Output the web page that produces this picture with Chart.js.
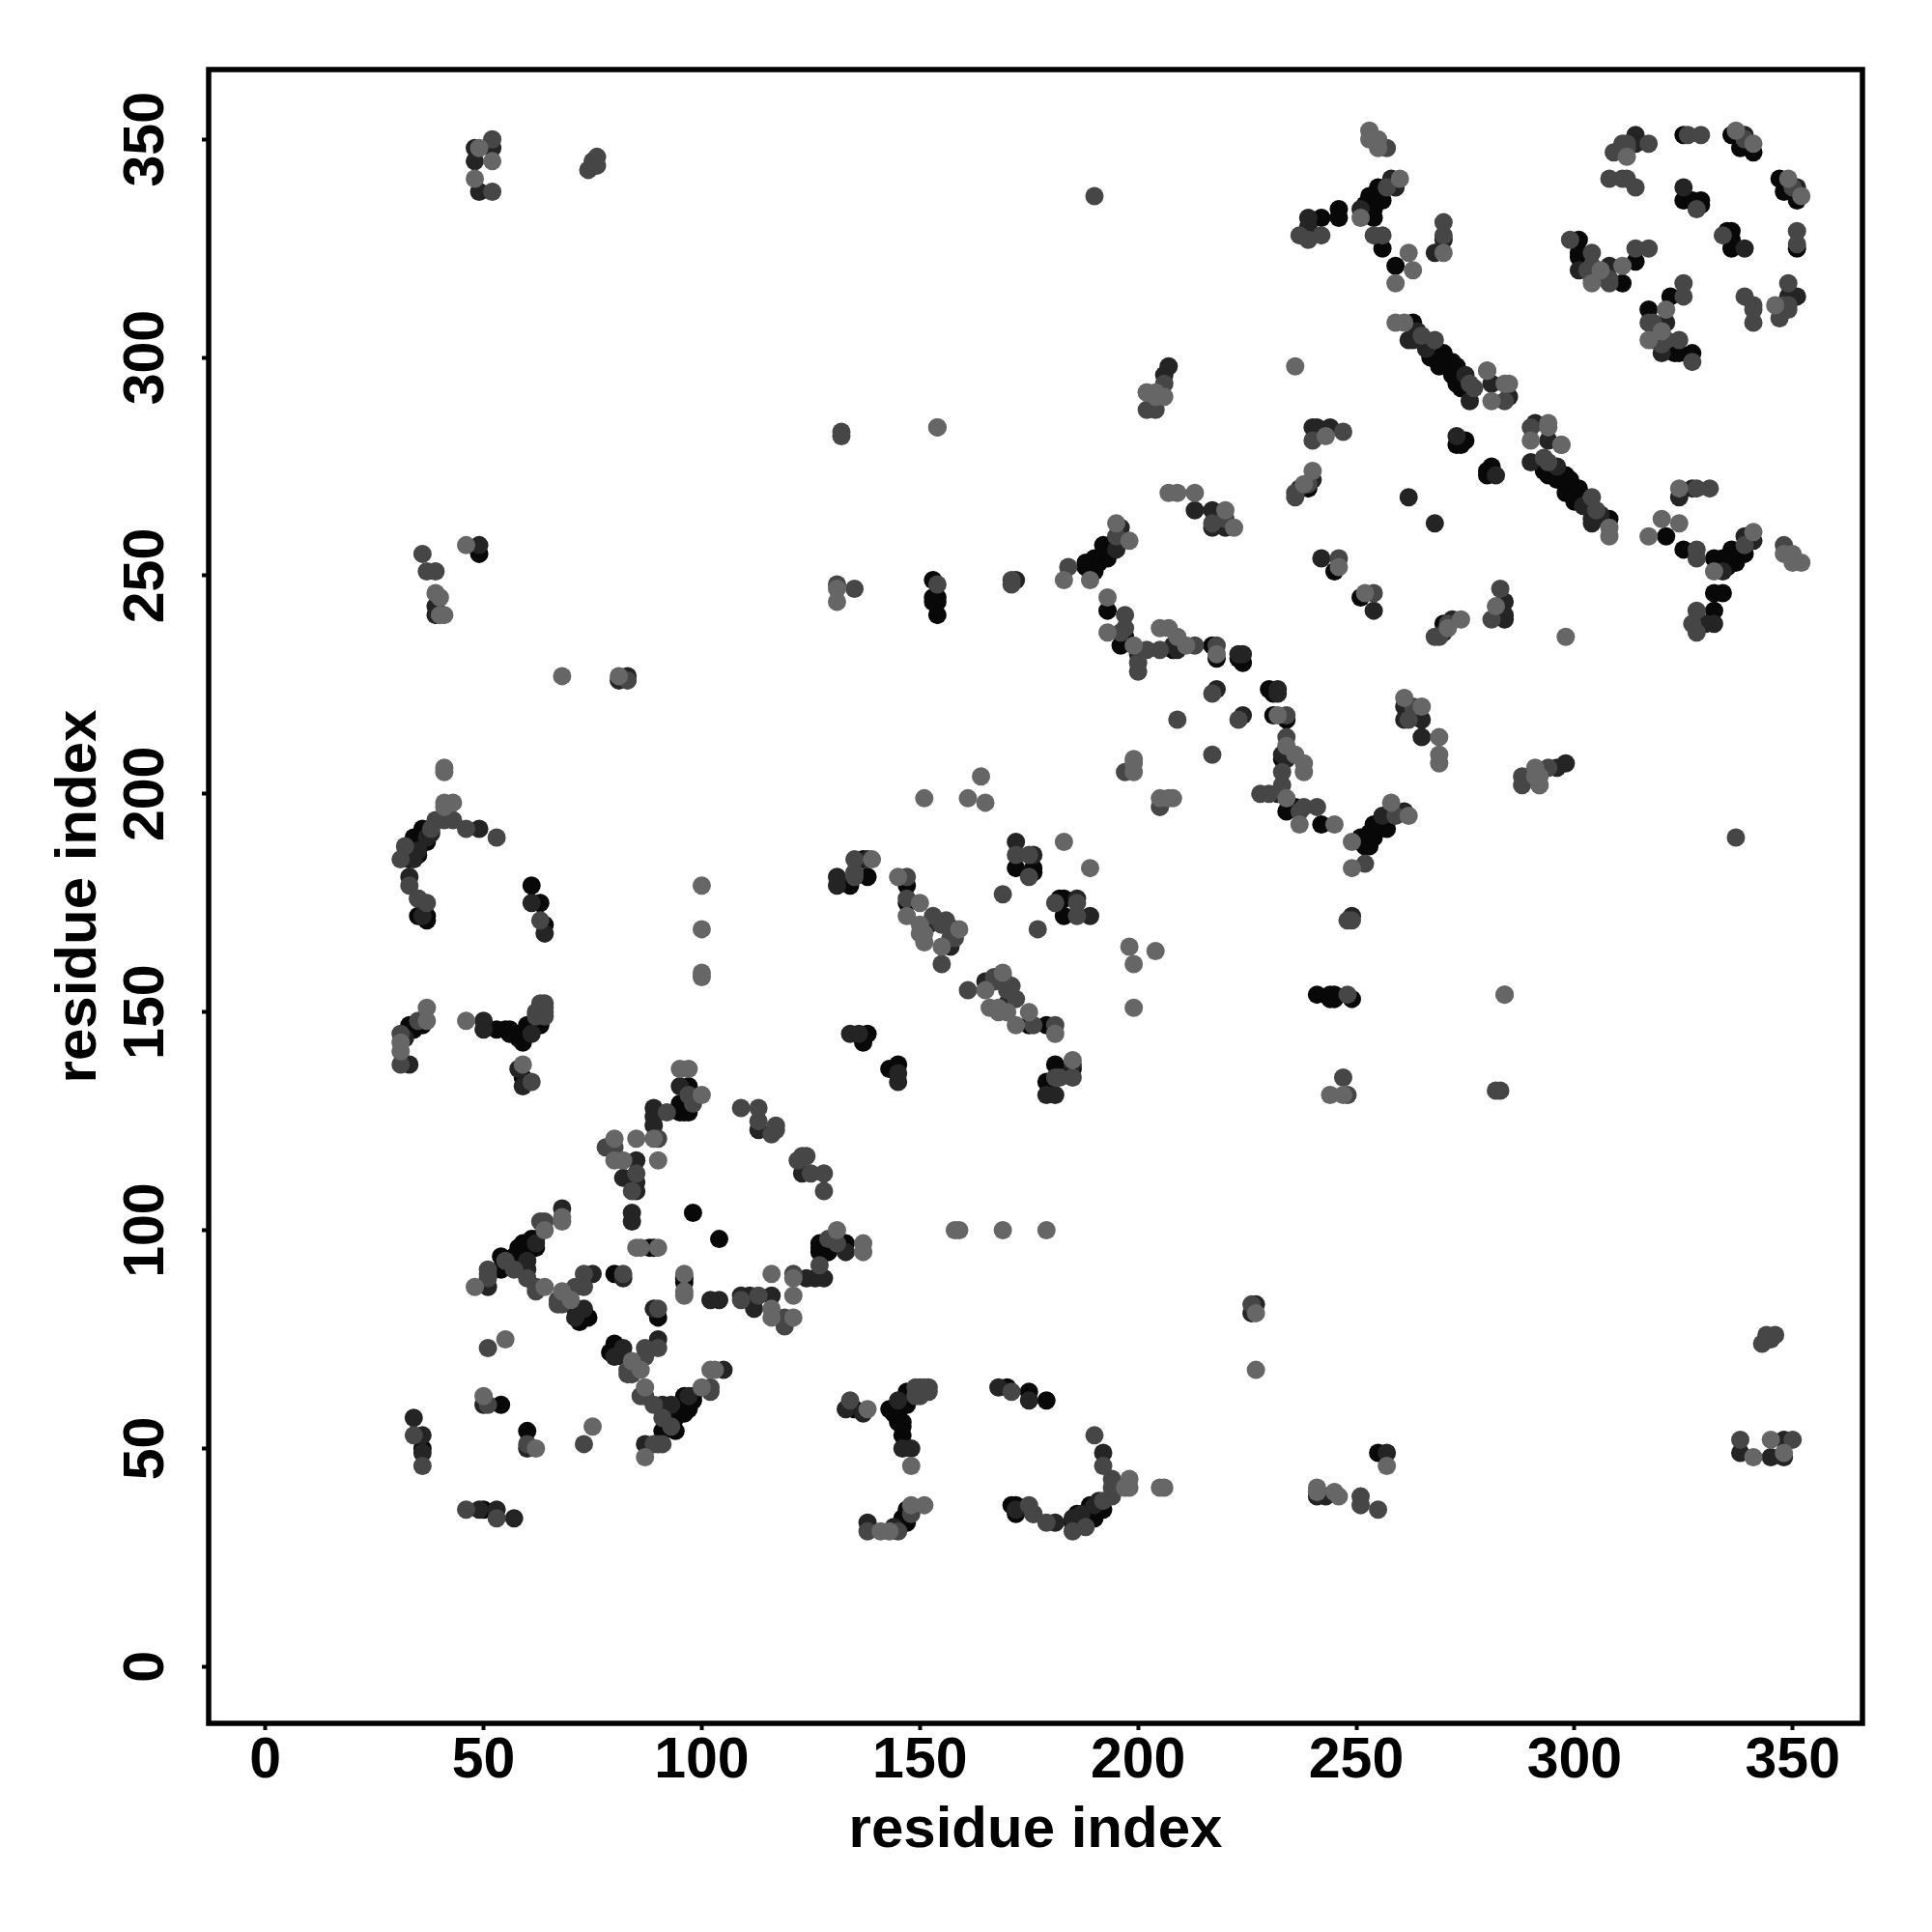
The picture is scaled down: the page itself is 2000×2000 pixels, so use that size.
<!DOCTYPE html>
<html>
<head>
<meta charset="utf-8">
<title>residue contact map</title>
<script src="https://cdn.jsdelivr.net/npm/chart.js@4"></script>
<style>
  html, body { margin: 0; padding: 0; background: #fff; }
  canvas { display: block; }
</style>
</head>
<body>
<canvas id="myChart" width="2000" height="2000" style="width:2000px;height:2000px"></canvas>
<script>
// contacts as [residue i, residue j], i < j, grouped by how dark the dot is. the map is symmetric so each one is drawn both ways
const tickValues = [0, 50, 100, 150, 200, 250, 300, 350];

const contactsLight = [
  [52,345],[48,341],[49,348],[31,141],[31,143],[37,148],[37,151],[46,148],[46,257],[39,246],[40,245],[40,241],[41,241],
  [41,205],[41,206],[41,198],[43,198],[41,197],[48,87],[50,62],[55,75],[64,87],[68,102],[68,103],[68,227],[81,227],[64,100],
  [68,86],[70,84],[59,138],[85,96],[86,96],[90,96],[85,121],[89,121],[80,121],[80,116],[82,116],[90,116],[95,137],
  [97,137],[100,131],[100,158],[100,159],[100,169],[100,179],[131,244],[131,247],[139,185],[145,181],[150,175],[147,172],
  [150,170],[150,168],[151,166],[155,165],[151,168],[159,169],[151,199],[161,199],[164,204],[165,198],[154,284],[183,189],
  [183,249],[189,249],[193,245],[193,237],[199,234],[198,258],[195,262],[199,205],[199,207],[199,208],[202,292],[204,291],
  [204,292],[206,291],[207,238],[205,238],[209,236],[211,234],[218,232],[213,269],[207,269],[209,269],[222,261],[220,265],
  [236,298],[238,271],[240,274],[243,282],[253,352],[253,350],[255,350],[255,348],[260,341],[251,332],[262,324],[263,320],
  [259,317],[270,324],[259,308],[261,308],[280,297],[284,294],[285,294],[281,290],[246,252],[306,320],[311,321],[312,346],
  [304,317],[337,352],[341,349],[202,292],[154,284]
];

const contactsMid = [
  [52,350],[52,338],[74,343],[75,345],[76,346],[76,344],[36,255],[37,251],[39,251],[36,46],[34,53],[51,73],[51,60],
  [53,190],[46,192],[39,194],[41,194],[43,194],[38,192],[32,188],[31,185],[33,179],[35,176],[37,175],[35,148],[31,145],
  [31,138],[63,171],[64,150],[64,152],[63,152],[62,150],[62,149],[64,149],[64,151],[61,134],[62,86],[63,102],[64,102],
  [51,91],[51,89],[51,90],[55,93],[57,91],[60,89],[62,87],[73,90],[73,87],[71,87],[68,83],[67,83],[67,84],[82,90],[78,119],
  [85,113],[92,127],[90,121],[97,131],[98,129],[84,109],[109,128],[113,125],[113,128],[117,124],[116,122],[117,123],[80,119],
  [131,248],[135,247],[132,283],[132,282],[135,185],[135,181],[135,182],[147,176],[147,181],[153,172],[156,171],[155,170],
  [157,167],[155,161],[158,167],[154,248],[171,248],[171,249],[169,177],[172,186],[175,181],[175,186],[190,337],[184,252],
  [195,259],[197,238],[197,241],[197,205],[200,228],[200,230],[202,233],[202,288],[204,288],[206,294],[209,217],[217,223],
  [213,234],[218,234],[205,233],[240,281],[247,283],[236,268],[236,269],[246,254],[237,328],[242,328],[239,327],[254,328],
  [256,328],[257,339],[257,348],[270,331],[270,328],[239,271],[220,263],[217,262],[265,305],[268,304],[276,294],[277,293],
  [284,290],[297,280],[304,318],[304,324],[308,318],[314,325],[317,325],[314,339],[317,349],[312,349],[309,347],[308,341],
  [311,341],[312,341],[312,348],[299,327],[303,320],[328,334],[326,351],[329,351],[339,350],[304,321],[308,317],[311,349],
  [83,226],[196,237]
];

const contactsDark = [
  [48,348],[49,338],[48,345],[52,348],[34,57],[36,53],[36,49],[49,257],[39,243],[39,241],[83,227],[81,226],[49,192],[33,181],
  [61,175],[64,168],[33,138],[32,144],[50,60],[59,133],[58,137],[61,145],[50,146],[50,148],[89,128],[89,126],[89,124],
  [85,116],[82,112],[85,111],[85,109],[84,104],[84,102],[62,97],[60,93],[60,91],[51,87],[75,90],[73,82],[71,80],[82,89],
  [95,133],[113,123],[131,179],[131,181],[134,145],[136,145],[138,185],[172,189],[176,186],[172,249],[157,165],[158,169],
  [152,170],[37,190],[35,187],[34,185],[38,191],[36,172],[35,176],[196,261],[195,256],[196,258],[200,232],[218,224],[224,232],
  [223,232],[217,265],[213,265],[217,261],[220,261],[262,268],[239,328],[239,332],[239,330],[240,284],[244,284],[241,284],
  [242,254],[258,341],[259,339],[251,334],[270,327],[268,324],[262,304],[263,304],[264,306],[266,302],[275,296],[276,290],
  [281,294],[285,291],[273,282],[240,272],[237,270],[308,321],[301,320],[325,339],[339,351],[314,351],[314,349],[206,296],
  [207,298],[208,234],[209,233],[68,105]
];

const contactsBlack = [
  [33,147],[34,146],[36,147],[33,185],[34,188],[34,190],[35,186],[36,190],[36,192],[37,189],[35,172],[37,172],[37,171],[36,50],
  [49,255],[53,146],[55,146],[56,145],[58,144],[59,143],[60,147],[63,147],[61,179],[63,175],[64,170],[58,145],[57,145],
  [56,146],[59,135],[54,60],[61,98],[59,97],[58,95],[57,94],[54,94],[54,91],[59,95],[60,96],[62,98],[62,96],[59,94],[58,93],
  [58,96],[71,82],[72,79],[74,80],[80,90],[97,127],[95,127],[96,127],[95,128],[95,129],[97,130],[97,133],[98,104],[88,96],
  [89,96],[134,179],[137,185],[138,181],[138,145],[137,143],[147,175],[147,179],[172,183],[176,183],[176,182],[153,249],
  [153,245],[154,245],[153,244],[154,241],[154,244],[245,251],[188,252],[189,251],[190,251],[188,253],[190,254],[191,253],
  [192,255],[192,257],[193,254],[193,255],[193,242],[196,234],[197,236],[208,233],[217,234],[218,231],[224,230],[223,231],
  [239,270],[255,339],[253,337],[255,336],[256,336],[252,335],[254,334],[254,332],[246,334],[246,332],[242,332],[256,325],
  [259,321],[263,308],[267,300],[270,301],[269,298],[272,299],[272,296],[274,293],[273,280],[274,280],[275,281],[273,294],
  [273,298],[325,351],[336,351],[338,348],[341,347],[325,336],[329,336],[329,335],[327,336],[301,327],[301,323],[301,324],
  [311,317],[314,322]
];

const bothWays = pairs => pairs.flatMap(([i, j]) => [{ x: i, y: j }, { x: j, y: i }]);

const frame = {
  id: 'frame',
  afterDatasetsDraw(chart) {
    const { ctx, chartArea: a } = chart;
    ctx.save();
    ctx.strokeStyle = '#000';
    ctx.lineWidth = 5.5;
    ctx.strokeRect(a.left, a.top, a.right - a.left, a.bottom - a.top);
    ctx.restore();
  }
};

const tickFont = { family: '"Liberation Sans"', size: 59, weight: 'bold' };
const titleFont = { family: '"Liberation Sans"', size: 60, weight: 'bold' };

function axis(extra) {
  return Object.assign({
    type: 'linear',
    min: -13,
    max: 366,
    afterBuildTicks: s => { s.ticks = tickValues.map(v => ({ value: v })); },
    border: { display: false },
    grid: { drawOnChartArea: false, drawTicks: true, tickLength: 7, tickWidth: 4, color: '#000' }
  }, extra);
}

const dot = (label, data, color) => ({
  label, data,
  backgroundColor: color,
  pointRadius: 9.5,
  pointHoverRadius: 9.5,
  borderWidth: 0,
  showLine: false
});

new Chart(document.getElementById('myChart').getContext('2d'), {
  type: 'scatter',
  data: {
    datasets: [
      dot('light', bothWays(contactsLight), '#666666'),
      dot('mid', bothWays(contactsMid), '#464646'),
      dot('dark', bothWays(contactsDark), '#242424'),
      dot('black', bothWays(contactsBlack), '#080808')
    ]
  },
  options: {
    responsive: false,
    animation: false,
    devicePixelRatio: 1,
    layout: { padding: { top: 72, right: 72, left: 0, bottom: 0 } },
    plugins: { legend: { display: false }, tooltip: { enabled: false } },
    scales: {
      x: axis({
        afterFit: s => { s.height = 216; },
        ticks: { color: '#000', font: tickFont, padding: -3, maxRotation: 0, autoSkip: false },
        title: { display: true, text: 'residue index', color: '#000', font: titleFont, padding: { top: 0, bottom: 69 } }
      }),
      y: axis({
        afterFit: s => { s.width = 216; },
        ticks: { color: '#000', font: tickFont, padding: 7, minRotation: 90, maxRotation: 90, crossAlign: 'center', autoSkip: false },
        title: { display: true, text: 'residue index', color: '#000', font: titleFont, padding: { top: 46, bottom: 0 } }
      })
    }
  },
  plugins: [frame]
});
</script>
</body>
</html>
